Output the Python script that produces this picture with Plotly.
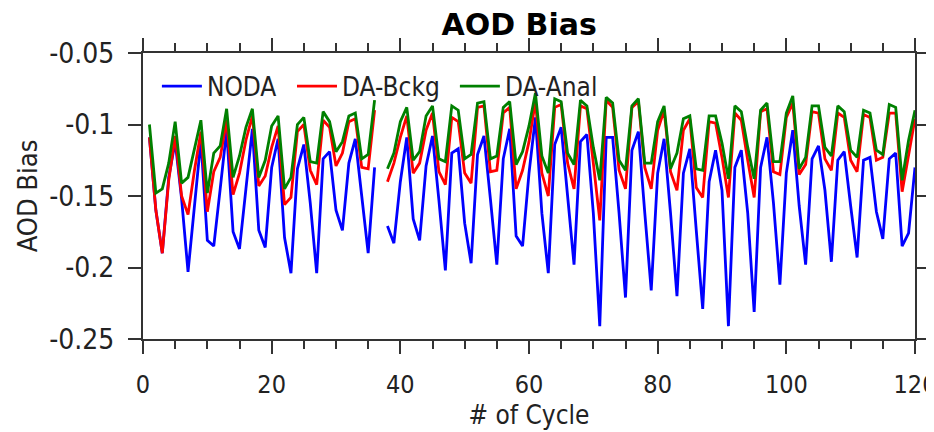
import plotly.graph_objects as go

# cycle 37 is missing in all three runs
cycle = list(range(1, 121))

noda = [
    -0.109, -0.160, -0.190, -0.137, -0.112, -0.152, -0.203, -0.158, -0.111, -0.181,
    -0.185, -0.145, -0.104, -0.175, -0.187, -0.145, -0.103, -0.174, -0.186, -0.130,
    -0.110, -0.179, -0.204, -0.131, -0.114, -0.155, -0.204, -0.124, -0.119, -0.160,
    -0.174, -0.127, -0.110, -0.150, -0.190, -0.130, None, -0.171, -0.183, -0.140,
    -0.109, -0.166, -0.181, -0.129, -0.108, -0.153, -0.202, -0.120, -0.117, -0.169,
    -0.197, -0.121, -0.108, -0.152, -0.198, -0.124, -0.103, -0.178, -0.185, -0.134,
    -0.095, -0.162, -0.204, -0.114, -0.102, -0.150, -0.198, -0.112, -0.107, -0.162,
    -0.241, -0.109, -0.109, -0.162, -0.221, -0.118, -0.105, -0.162, -0.216, -0.134,
    -0.110, -0.162, -0.220, -0.134, -0.117, -0.174, -0.229, -0.140, -0.118, -0.146,
    -0.241, -0.130, -0.118, -0.162, -0.231, -0.130, -0.109, -0.155, -0.212, -0.134,
    -0.104, -0.157, -0.198, -0.124, -0.115, -0.146, -0.196, -0.125, -0.119, -0.157,
    -0.193, -0.125, -0.123, -0.161, -0.180, -0.124, -0.120, -0.185, -0.176, -0.130,
]

da_bckg = [
    -0.109, -0.160, -0.190, -0.139, -0.108, -0.150, -0.163, -0.132, -0.105, -0.161,
    -0.133, -0.123, -0.097, -0.149, -0.134, -0.111, -0.094, -0.143, -0.136, -0.116,
    -0.101, -0.156, -0.151, -0.105, -0.100, -0.132, -0.142, -0.097, -0.102, -0.129,
    -0.120, -0.098, -0.096, -0.130, -0.131, -0.090, None, -0.140, -0.127, -0.109,
    -0.094, -0.134, -0.127, -0.104, -0.092, -0.133, -0.142, -0.095, -0.098, -0.134,
    -0.141, -0.088, -0.087, -0.133, -0.132, -0.092, -0.088, -0.145, -0.132, -0.112,
    -0.084, -0.134, -0.150, -0.088, -0.086, -0.127, -0.145, -0.087, -0.089, -0.127,
    -0.167, -0.083, -0.088, -0.132, -0.145, -0.088, -0.084, -0.130, -0.145, -0.104,
    -0.090, -0.133, -0.146, -0.104, -0.096, -0.144, -0.151, -0.098, -0.099, -0.123,
    -0.151, -0.092, -0.097, -0.125, -0.151, -0.091, -0.089, -0.133, -0.135, -0.095,
    -0.085, -0.135, -0.128, -0.091, -0.092, -0.124, -0.132, -0.092, -0.095, -0.125,
    -0.133, -0.093, -0.095, -0.125, -0.123, -0.092, -0.092, -0.147, -0.122, -0.096,
]

da_anal = [
    -0.100, -0.148, -0.145, -0.127, -0.098, -0.141, -0.137, -0.118, -0.097, -0.148,
    -0.120, -0.115, -0.089, -0.137, -0.122, -0.102, -0.089, -0.137, -0.125, -0.101,
    -0.094, -0.145, -0.137, -0.100, -0.095, -0.126, -0.127, -0.091, -0.098, -0.119,
    -0.112, -0.094, -0.092, -0.124, -0.121, -0.083, None, -0.131, -0.120, -0.098,
    -0.088, -0.125, -0.119, -0.094, -0.087, -0.124, -0.126, -0.087, -0.090, -0.124,
    -0.121, -0.085, -0.084, -0.124, -0.122, -0.088, -0.084, -0.128, -0.119, -0.101,
    -0.078, -0.122, -0.134, -0.082, -0.084, -0.120, -0.128, -0.083, -0.087, -0.116,
    -0.139, -0.081, -0.085, -0.125, -0.132, -0.087, -0.082, -0.127, -0.127, -0.098,
    -0.087, -0.131, -0.120, -0.096, -0.094, -0.131, -0.132, -0.094, -0.094, -0.113,
    -0.138, -0.087, -0.091, -0.116, -0.138, -0.090, -0.085, -0.126, -0.126, -0.092,
    -0.080, -0.131, -0.123, -0.087, -0.087, -0.116, -0.122, -0.087, -0.091, -0.118,
    -0.123, -0.090, -0.092, -0.118, -0.121, -0.086, -0.088, -0.139, -0.111, -0.090,
]

y_ticks = [-0.25, -0.2, -0.15, -0.1, -0.05]
y_tick_text = ['-0.25', '-0.2', '-0.15', '-0.1', '-0.05']
x_ticks = [0, 20, 40, 60, 80, 100, 120]

# one legend per series so each entry can sit where the original has it
series = [
    ('NODA', noda, '#0000ff', 'legend', 0.018),
    ('DA-Bckg', da_bckg, '#ff0000', 'legend2', 0.193),
    ('DA-Anal', da_anal, '#008000', 'legend3', 0.404),
]

FONT = 'DejaVu Sans Condensed, DejaVu Sans, sans-serif'
INK = '#222222'
FRAME = '#333333'

fig = go.Figure()
for name, vals, col, leg, _ in series:
    fig.add_trace(go.Scatter(
        x=cycle, y=vals, mode='lines', name=name, legend=leg,
        line=dict(color=col, width=2.8),
        connectgaps=False,
    ))

axis_common = dict(
    showline=True, linecolor=FRAME, linewidth=2, mirror='allticks',
    ticks='outside', tickcolor=FRAME, tickwidth=2, ticklen=13,
    showgrid=False, zeroline=False, automargin=False,
    ticklabeloverflow='allow',
)

legends = {}
for name, vals, col, leg, lx in series:
    legends[leg] = dict(orientation='h', x=lx, xanchor='left', y=0.966, yanchor='top',
                        bgcolor='rgba(0,0,0,0)', font=dict(family=FONT, size=26, color=INK),
                        itemwidth=40)

# the page body adds an 8px margin, so the figure is 8px smaller than the window
fig.update_layout(
    width=926, height=424,
    paper_bgcolor='white', plot_bgcolor='white',
    margin=dict(l=135, r=19, t=45, b=93, autoexpand=False),
    title=dict(text='<b>AOD Bias</b>', x=0.552, xanchor='center', y=0.962, yanchor='middle',
               font=dict(family='DejaVu Sans, sans-serif', size=30, color='black')),
    showlegend=True,
    xaxis=dict(range=[0, 120], tickvals=x_ticks, ticklabelstandoff=9,
               tickfont=dict(family=FONT, size=25, color=INK),
               minor=dict(dtick=5, tick0=0, ticks='outside', ticklen=8, tickwidth=2, tickcolor=FRAME),
               title=dict(text='# of Cycle', font=dict(family=FONT, size=26, color=INK), standoff=8),
               **axis_common),
    xaxis2=dict(range=[0, 120], overlaying='x', side='top', showticklabels=False,
                showline=False, showgrid=False, zeroline=False, automargin=False,
                tickvals=x_ticks, ticks='outside', ticklen=13, tickwidth=2, tickcolor=FRAME,
                minor=dict(dtick=5, tick0=0, ticks='outside', ticklen=8, tickwidth=2, tickcolor=FRAME)),
    yaxis=dict(range=[-0.25, -0.05], tickvals=y_ticks, ticktext=y_tick_text, ticklabelstandoff=8,
               tickfont=dict(family=FONT, size=28, color=INK),
               title=dict(text='AOD Bias', font=dict(family=FONT, size=27, color=INK), standoff=4),
               **axis_common),
    **legends,
)

fig.write_html("out.html")
